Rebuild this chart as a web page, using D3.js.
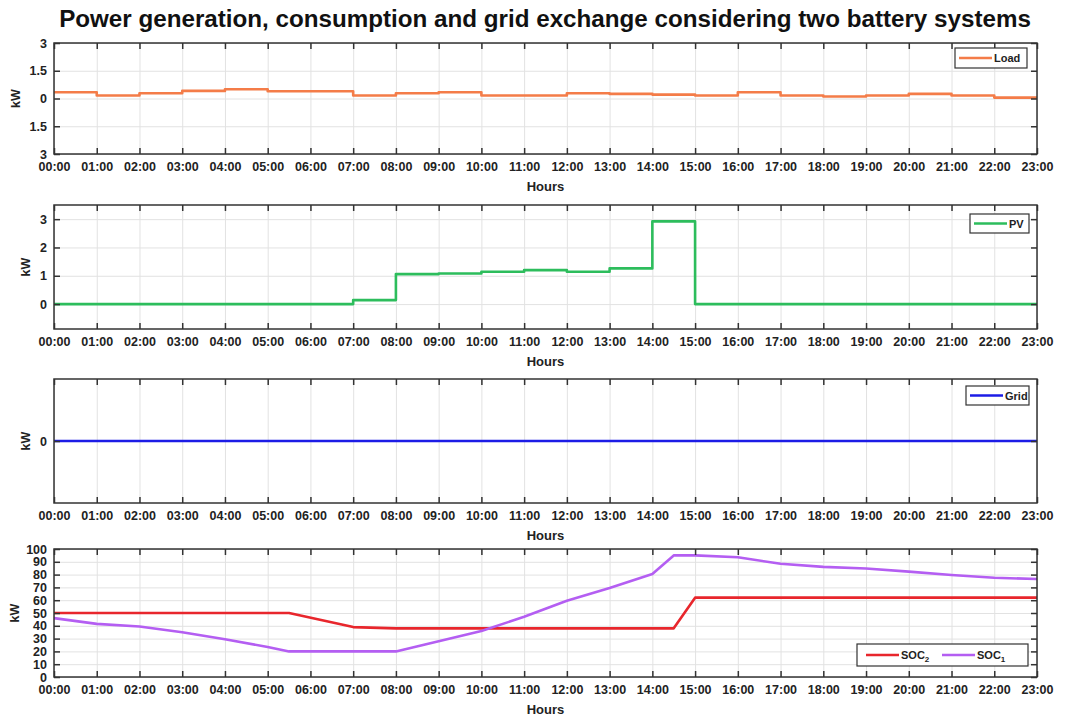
<!DOCTYPE html>
<html>
<head>
<meta charset="utf-8">
<script src="https://cdn.jsdelivr.net/npm/d3@7"></script>
<style>
  body { margin: 0; background: #fff; }
  svg text { font-family: "Liberation Sans", Arial, sans-serif; }
</style>
</head>
<body>
<svg id="chart" width="1065" height="720"></svg>
<script>
// hourly data (step plots)
const hours = d3.range(0, 24)
const hourLabels = hours.map(h => (h < 10 ? "0" + h : "" + h) + ":00")
const loadKW = [0.34, 0.16, 0.28, 0.41, 0.5, 0.39, 0.39, 0.16, 0.28, 0.34, 0.16, 0.16,
                0.28, 0.25, 0.21, 0.16, 0.34, 0.16, 0.11, 0.16, 0.25, 0.16, 0.05, 0.05]
const pvKW = [0, 0, 0, 0, 0, 0, 0, 0.14, 1.06, 1.08, 1.14, 1.2,
              1.14, 1.26, 2.92, 0, 0, 0, 0, 0, 0, 0, 0, 0]
const gridKW = hours.map(() => 0)

// battery state of charge
const socT = [0, 1, 2, 3, 4, 5, 5.5, 7, 8, 9, 10, 11, 12, 13, 14, 14.5, 15, 16, 17, 18, 19, 20, 21, 22, 23]
const soc1 = [46, 41.5, 39.5, 35, 29.5, 23.5, 20, 20, 20, 28, 36, 47, 59.5, 69.5, 80.5, 95, 95, 93.5, 88.5, 86, 84.8, 82.3, 79.7, 77.5, 76.6]
const soc2 = [50, 50, 50, 50, 50, 50, 50, 39, 38, 38, 38, 38, 38, 38, 38, 38, 62, 62, 62, 62, 62, 62, 62, 62, 62]

const loadTicks = [-3, -1.5, 0, 1.5, 3]
const loadTickLabels = ["3", "1.5", "0", "1.5", "3"]
const pvTicks = [0, 1, 2, 3]
const gridTicks = [0]
const socTicks = d3.range(0, 101, 10)

const svg = d3.select("#chart")
const width = 1065
const margin = {left: 54, right: 28}

const x = d3.scaleLinear()
    .domain([0, 23])
    .range([margin.left, width - margin.right])

svg.append("text")
    .attr("x", 545)
    .attr("y", 27)
    .attr("text-anchor", "middle")
    .attr("font-size", 24.2)
    .attr("font-weight", "bold")
    .attr("fill", "#111")
    .text("Power generation, consumption and grid exchange considering two battery systems")

function panel(opt) {
    const y = d3.scaleLinear().domain(opt.domain).range([opt.bottom, opt.top])
    const g = svg.append("g")
    const h = opt.bottom - opt.top
    const x0 = margin.left, x1 = width - margin.right

    // grid
    g.append("g")
        .attr("transform", `translate(0,${opt.bottom})`)
        .call(d3.axisBottom(x).tickValues(hours).tickSize(-h).tickFormat(""))
        .call(g => g.select(".domain").remove())
        .call(g => g.selectAll(".tick line").attr("stroke", "#e2e2e2").attr("stroke-width", 1))
    g.append("g")
        .attr("transform", `translate(${x0},0)`)
        .call(d3.axisLeft(y).tickValues(opt.ticks).tickSize(-(x1 - x0)).tickFormat(""))
        .call(g => g.select(".domain").remove())
        .call(g => g.selectAll(".tick line").attr("stroke", "#e2e2e2").attr("stroke-width", 1))

    // series
    opt.series.forEach(s => {
        const ln = d3.line()
            .x((d, i) => x(s.t[i]))
            .y(d => y(d))
            .curve(s.step ? d3.curveStepAfter : d3.curveLinear)
        g.append("path")
            .attr("d", ln(s.values))
            .attr("fill", "none")
            .attr("stroke", s.color)
            .attr("stroke-width", 2.6)
            .attr("stroke-linejoin", "round")
    })

    // inward ticks on all four sides
    g.append("g")
        .attr("transform", `translate(0,${opt.bottom})`)
        .call(d3.axisTop(x).tickValues(hours).tickSize(6).tickFormat(""))
        .call(g => g.select(".domain").remove())
        .call(g => g.selectAll(".tick line").attr("stroke", "#333").attr("stroke-width", 1.5))
    g.append("g")
        .attr("transform", `translate(0,${opt.top})`)
        .call(d3.axisBottom(x).tickValues(hours).tickSize(6).tickFormat(""))
        .call(g => g.select(".domain").remove())
        .call(g => g.selectAll(".tick line").attr("stroke", "#333").attr("stroke-width", 1.5))
    g.append("g")
        .attr("transform", `translate(${x0},0)`)
        .call(d3.axisRight(y).tickValues(opt.ticks).tickSize(6).tickFormat(""))
        .call(g => g.select(".domain").remove())
        .call(g => g.selectAll(".tick line").attr("stroke", "#333").attr("stroke-width", 1.5))
    g.append("g")
        .attr("transform", `translate(${x1},0)`)
        .call(d3.axisLeft(y).tickValues(opt.ticks).tickSize(6).tickFormat(""))
        .call(g => g.select(".domain").remove())
        .call(g => g.selectAll(".tick line").attr("stroke", "#333").attr("stroke-width", 1.5))

    // frame
    g.append("rect")
        .attr("x", x0).attr("y", opt.top)
        .attr("width", x1 - x0).attr("height", h)
        .attr("fill", "none").attr("stroke", "#333").attr("stroke-width", 1.5)

    // tick labels
    g.append("g")
        .attr("transform", `translate(0,${opt.bottom})`)
        .call(d3.axisBottom(x).tickValues(hours).tickSize(0).tickPadding(8)
            .tickFormat((d, i) => hourLabels[i]))
        .call(g => g.select(".domain").remove())
        .call(g => g.selectAll("text").attr("font-size", 12.5).attr("font-weight", "bold")
            .attr("fill", "#222").attr("font-family", "Liberation Sans, Arial, sans-serif"))
    g.append("g")
        .attr("transform", `translate(${x0},0)`)
        .call(d3.axisLeft(y).tickValues(opt.ticks).tickSize(0).tickPadding(7)
            .tickFormat((d, i) => opt.tickLabels ? opt.tickLabels[i] : d))
        .call(g => g.select(".domain").remove())
        .call(g => g.selectAll("text").attr("font-size", 12.5).attr("font-weight", "bold")
            .attr("fill", "#222").attr("font-family", "Liberation Sans, Arial, sans-serif"))

    g.append("text")
        .attr("transform", `translate(${opt.ylabX},${(opt.top + opt.bottom) / 2}) rotate(-90)`)
        .attr("text-anchor", "middle")
        .attr("font-size", 12.5).attr("font-weight", "bold").attr("fill", "#222")
        .text("kW")
    g.append("text")
        .attr("x", (x0 + x1) / 2)
        .attr("y", opt.bottom + 37)
        .attr("text-anchor", "middle")
        .attr("font-size", 13).attr("font-weight", "bold").attr("fill", "#222")
        .text("Hours")

    // legend
    const lg = opt.legend
    const lgG = g.append("g")
    lgG.append("rect")
        .attr("x", lg.x).attr("y", lg.y).attr("width", lg.w).attr("height", lg.h)
        .attr("fill", "#fff").attr("stroke", "#333").attr("stroke-width", 1.2)
    lg.items.forEach(it => {
        lgG.append("line")
            .attr("x1", it.x).attr("x2", it.x + it.len)
            .attr("y1", lg.y + lg.h / 2).attr("y2", lg.y + lg.h / 2)
            .attr("stroke", it.color).attr("stroke-width", 2.6)
        const t = lgG.append("text")
            .attr("x", it.x + it.len + 2)
            .attr("y", lg.y + lg.h / 2 + 4)
            .attr("font-size", 11).attr("font-weight", "bold").attr("fill", "#222")
            .text(it.label)
        if (it.sub) {
            t.append("tspan").attr("font-size", 8).attr("dy", 3).text(it.sub)
        }
    })
}

panel({
    top: 43, bottom: 154, domain: [-3, 3], ticks: loadTicks, tickLabels: loadTickLabels, ylabX: 20,
    series: [{t: hours, values: loadKW, color: "#f47c48", step: true}],
    legend: {x: 955, y: 48, w: 72, h: 20, items: [{x: 959, len: 33, color: "#f47c48", label: "Load"}]}
})
panel({
    top: 205, bottom: 329, domain: [-0.88, 3.5], ticks: pvTicks, ylabX: 30,
    series: [{t: hours, values: pvKW, color: "#2dbd5c", step: true}],
    legend: {x: 970, y: 214, w: 59, h: 19, items: [{x: 974, len: 33, color: "#2dbd5c", label: "PV"}]}
})
panel({
    top: 379, bottom: 503, domain: [-1, 1], ticks: gridTicks, ylabX: 30,
    series: [{t: hours, values: gridKW, color: "#1c1ce6", step: true}],
    legend: {x: 966, y: 386, w: 63, h: 19, items: [{x: 970, len: 33, color: "#1c1ce6", label: "Grid"}]}
})
panel({
    top: 549, bottom: 677, domain: [0, 100], ticks: socTicks, ylabX: 19,
    series: [
        {t: socT, values: soc2, color: "#e8262c", step: false},
        {t: socT, values: soc1, color: "#b45ef2", step: false}
    ],
    legend: {x: 857, y: 644, w: 171, h: 22, items: [
        {x: 866, len: 33, color: "#e8262c", label: "SOC", sub: "2"},
        {x: 942, len: 33, color: "#b45ef2", label: "SOC", sub: "1"}
    ]}
})
</script>
</body>
</html>
